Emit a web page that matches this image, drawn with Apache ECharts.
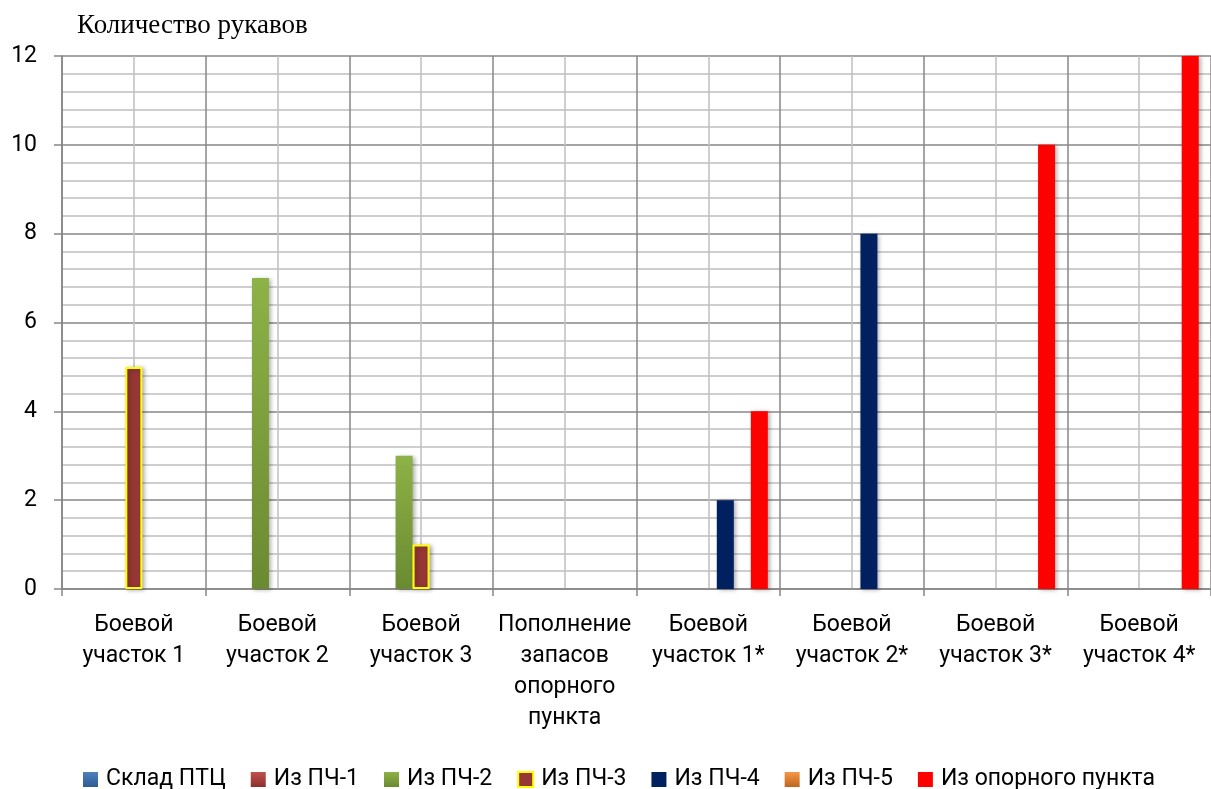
<!DOCTYPE html>
<html lang="ru">
<head>
    <meta charset="UTF-8">
    <title>Количество рукавов</title>
    <style>
        body { margin: 0; padding: 0; background: #fff; }
        #chart { width: 1211px; height: 789px; }
    </style>
</head>
<body>
<div id="chart"></div>
<script src="https://cdn.jsdelivr.net/npm/echarts@6/dist/echarts.min.js"></script>
<script>
    const categories = [
        "Боевой\nучасток 1", "Боевой\nучасток 2", "Боевой\nучасток 3",
        "Пополнение\nзапасов\nопорного\nпункта",
        "Боевой\nучасток 1*", "Боевой\nучасток 2*", "Боевой\nучасток 3*", "Боевой\nучасток 4*"
    ];
    const seriesNames = ["Склад ПТЦ", "Из ПЧ-1", "Из ПЧ-2", "Из ПЧ-3", "Из ПЧ-4", "Из ПЧ-5", "Из опорного пункта"];
    const skladPtc = [null, null, null, null, null, null, null, null];
    const pch1 = [null, null, null, null, null, null, null, null];
    const pch2 = [null, 7, 3, null, null, null, null, null];
    const pch3 = [5, null, 1, null, null, null, null, null];
    const pch4 = [null, null, null, null, 2, 8, null, null];
    const pch5 = [null, null, null, null, null, null, null, null];
    const oporPunkt = [null, null, null, null, 4, null, 10, 12];
    const yTicks = [0, 2, 4, 6, 8, 10, 12];

    const font = "Roboto, 'Open Sans', sans-serif";
    const grad = (top, bottom) => new echarts.graphic.LinearGradient(0, 0, 0, 1, [
        {offset: 0, color: top}, {offset: 1, color: bottom}
    ]);

    // colours per series, same order as seriesNames
    const styles = [
        {color: grad("#4F81BD", "#2E5B93")},
        {color: grad("#C0504D", "#8C2F2D")},
        {color: grad("#8DB247", "#6A8A31")},
        {color: "#953735", borderColor: "#FFFF00", borderWidth: 2},
        {color: "#002060"},
        {color: grad("#F79646", "#BE6620")},
        {color: "#FF0000"}
    ];
    const values = [skladPtc, pch1, pch2, pch3, pch4, pch5, oporPunkt];

    const chart = echarts.init(document.getElementById("chart"));

    const option = {
        animation: false,
        backgroundColor: "#fff",
        title: {
            text: "Количество рукавов",
            left: 72,
            top: 7,
            textStyle: {
                fontFamily: "'Liberation Serif', serif",
                fontSize: 27,
                fontWeight: "normal",
                color: "#000"
            }
        },
        legend: {
            top: 763,
            left: 78,
            icon: "rect",
            itemWidth: 15,
            itemHeight: 15,
            itemGap: 25,
            textStyle: {fontFamily: font, fontSize: 23, color: "#000", padding: [0, 0, 0, 3]},
            data: seriesNames
        },
        grid: {left: 62, right: 0, top: 56, bottom: 200, outerBoundsMode: "none"},
        xAxis: [
            {
                type: "category",
                data: categories,
                axisLine: {lineStyle: {color: "#868686", width: 1.5}},
                axisTick: {show: true, length: 7, lineStyle: {color: "#868686", width: 1.5}},
                splitLine: {show: false},
                axisLabel: {
                    interval: 0,
                    hideOverlap: false,
                    fontFamily: font,
                    fontSize: 23,
                    color: "#000",
                    lineHeight: 31,
                    margin: 21
                }
            },
            {
                // vertical grid: darker at category borders, lighter at category middles
                type: "value",
                min: 0,
                max: 8,
                interval: 1,
                show: true,
                position: "bottom",
                axisLine: {show: false},
                axisTick: {show: false},
                axisLabel: {show: false},
                splitLine: {show: true, lineStyle: {color: "#878787", width: 1.5}},
                minorTick: {show: false, splitNumber: 2},
                minorSplitLine: {show: true, lineStyle: {color: "#C0C0C0", width: 1.5}}
            }
        ],
        yAxis: {
            type: "value",
            min: yTicks[0],
            max: yTicks[yTicks.length - 1],
            interval: 2,
            axisLine: {show: true, lineStyle: {color: "#868686", width: 1.5}},
            axisTick: {show: true, length: 8, lineStyle: {color: "#868686", width: 1.5}},
            axisLabel: {fontFamily: font, fontSize: 23, color: "#000", margin: 25},
            splitLine: {show: true, lineStyle: {color: "#878787", width: 1.5}},
            minorTick: {show: false, splitNumber: 5},
            minorSplitLine: {show: true, lineStyle: {color: "#BFBFBF", width: 1.5}}
        },
        series: seriesNames.map((name, i) => ({
            name: name,
            type: "bar",
            xAxisIndex: 0,
            data: values[i],
            barWidth: 17,
            barGap: "0%",
            itemStyle: Object.assign({
                shadowColor: "rgba(0,0,0,0.3)",
                shadowBlur: 4,
                shadowOffsetX: 2,
                shadowOffsetY: 1
            }, styles[i])
        }))
    };

    chart.setOption(option);
</script>
</body>
</html>
